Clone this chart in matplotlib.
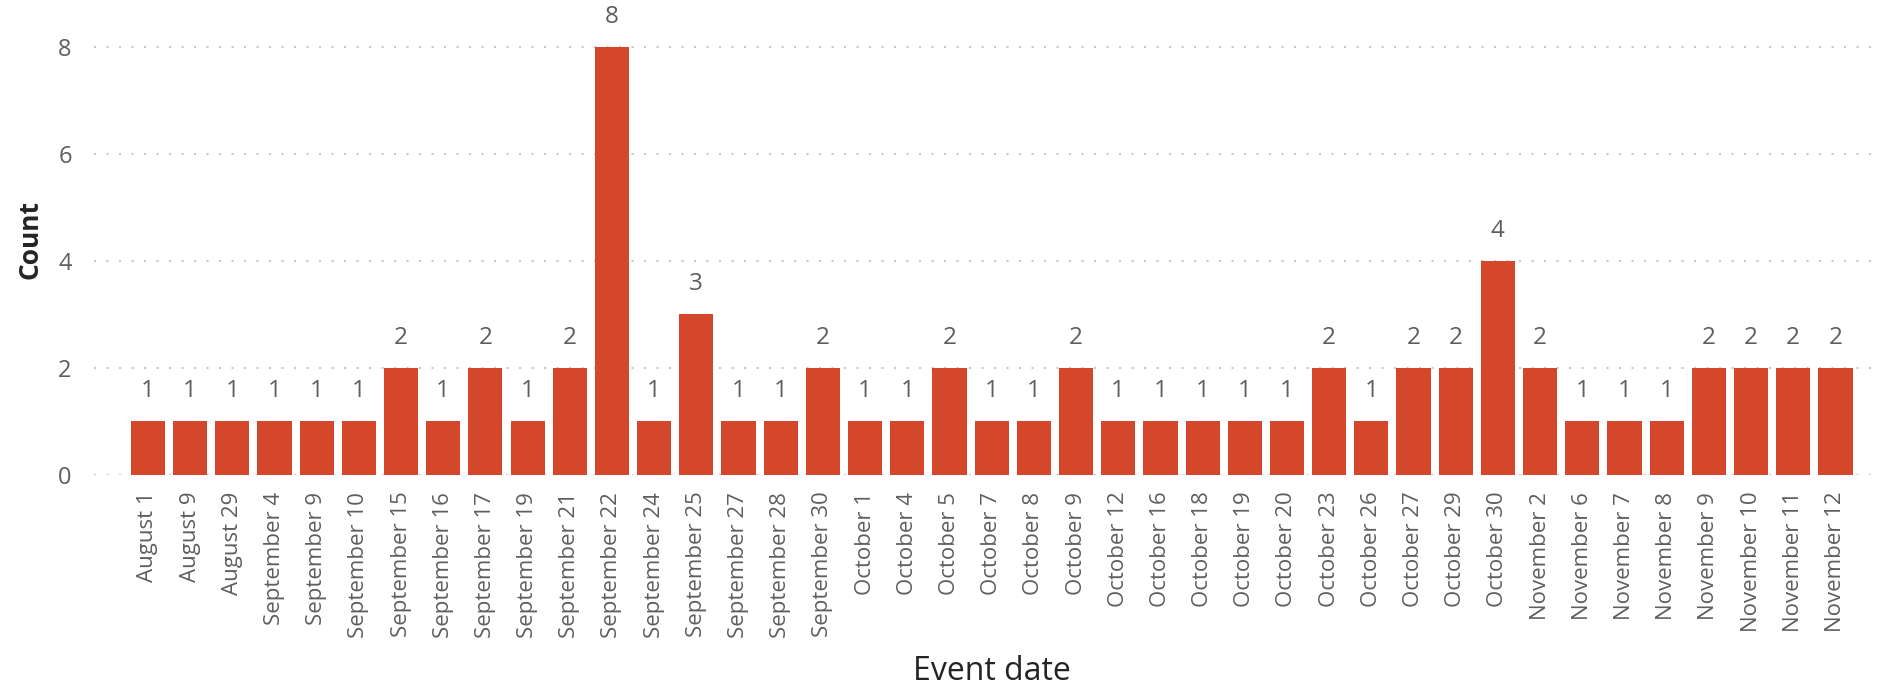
import matplotlib.pyplot as plt

# counts per event date
dates = [
    "August 1", "August 9", "August 29",
    "September 4", "September 9", "September 10", "September 15", "September 16",
    "September 17", "September 19", "September 21", "September 22", "September 24",
    "September 25", "September 27", "September 28", "September 30",
    "October 1", "October 4", "October 5", "October 7", "October 8", "October 9",
    "October 12", "October 16", "October 18", "October 19", "October 20",
    "October 23", "October 26", "October 27", "October 29", "October 30",
    "November 2", "November 6", "November 7", "November 8", "November 9",
    "November 10", "November 11", "November 12",
]
counts = [
    1, 1, 1,
    1, 1, 1, 2, 1,
    2, 1, 2, 8, 1,
    3, 1, 1, 2,
    1, 1, 2, 1, 1, 2,
    1, 1, 1, 1, 1,
    2, 1, 2, 2, 4,
    2, 1, 1, 1, 2,
    2, 2, 2,
]
y_ticks = [0, 2, 4, 6, 8]

bar_color = "#D4472A"
label_color = "#605E5C"
title_color = "#252423"

plt.rcParams['font.family'] = ['Open Sans', 'DejaVu Sans']

fig = plt.figure(figsize=(18.78, 6.85), dpi=100)
ax = fig.add_axes([0.050, 0.3066, 0.948, 0.664])

x = list(range(len(dates)))
ax.bar(x, counts, width=0.81, color=bar_color, zorder=2)

for xi, c in zip(x, counts):
    ax.annotate(str(c), (xi, c), xytext=(0, 13), textcoords="offset points",
                ha="center", va="bottom", fontsize=17.5, color=label_color,
                annotation_clip=False)

ax.set_xlim(-1.28, len(dates) - 1 + 0.92)
ax.set_ylim(0, 8.5)
ax.set_yticks(y_ticks)
ax.set_xticks(x)
ax.set_xticklabels(dates, rotation=90)

ax.grid(axis="y", color="#C8C8C8", linestyle=(0, (1, 5)), linewidth=1.5, zorder=0)
ax.grid(axis="x", visible=False)
for s in ax.spines.values():
    s.set_visible(False)

ax.tick_params(axis="y", length=0, pad=16, labelsize=17, labelcolor=label_color)
ax.tick_params(axis="x", length=0, pad=12, labelsize=16, labelcolor=label_color)

fig.text(0.016, 0.65, "Count", rotation=90, ha="center", va="center",
         fontsize=19, fontweight="bold", color=title_color)
fig.text(0.528, 0.02, "Event date", ha="center", va="center",
         fontsize=23, color=title_color)

fig.savefig("out.png", dpi=100)
